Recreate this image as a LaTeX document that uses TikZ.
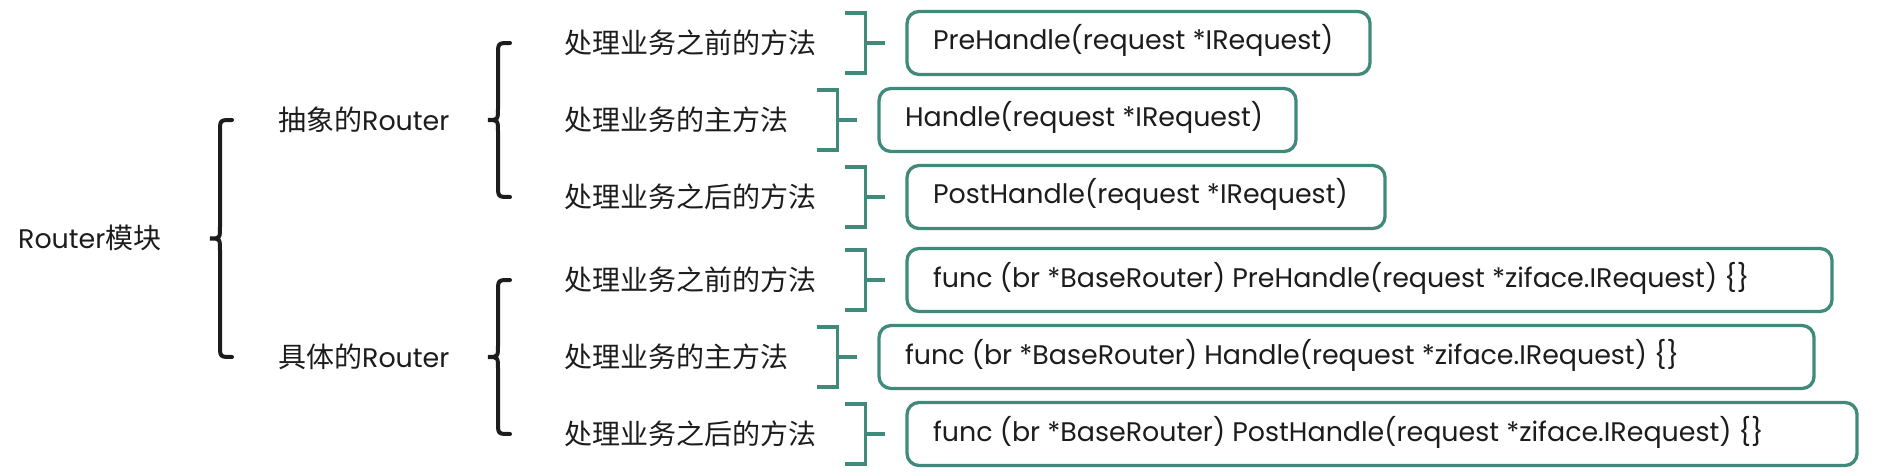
\documentclass[tikz,border=0pt]{standalone}
\usepackage{fontspec}
\usetikzlibrary{positioning,calc}
\setmainfont[Scale=0.96]{Poppins}
\newfontfamily\cjk{Noto Sans CJK SC}
\definecolor{mapgreen}{RGB}{64,138,124}
\definecolor{ink}{RGB}{28,28,28}

\begin{document}
\begin{tikzpicture}[x=1pt, y=-1pt,
    topic/.style={anchor=west, inner sep=0pt, text=ink, font=\fontsize{28}{34}\selectfont},
    method/.style={topic, font=\cjk\fontsize{28}{34}\selectfont},
    code/.style={draw=mapgreen, line width=3.3pt, rounded corners=12pt, text=ink,
        font=\fontsize{28}{34}\selectfont, inner xsep=26pt, minimum height=63pt,
        text height=20pt, text depth=6pt},
    bracket/.style={mapgreen, line width=3.5pt},
    brace/.style={ink, line width=4pt, line cap=round}]
\useasboundingbox (0,0) rectangle (1904,476);
% Topics
\node[topic] (root) at (18,238) {Router{\cjk 模块}};
\node[topic] (abs) at (278,120) {{\cjk 抽象的}Router};
\node[topic] (con) at (278,357) {{\cjk 具体的}Router};
% Methods, with their code boxes
\foreach \i/\r/\w/\lab/\code in {
    1/43/411/{处理业务之前的方法}/{PreHandle(request *IRequest)},
    2/120/365/{处理业务的主方法}/{Handle(request *IRequest)},
    3/197/426/{处理业务之后的方法}/{PostHandle(request *IRequest)},
    4/280/873/{处理业务之前的方法}/{func (br *BaseRouter) PreHandle(request *ziface.IRequest) \{\}},
    5/357/883/{处理业务的主方法}/{func (br *BaseRouter) Handle(request *ziface.IRequest) \{\}},
    6/434/898/{处理业务之后的方法}/{func (br *BaseRouter) PostHandle(request *ziface.IRequest) \{\}}} {
    \node[method] (m\i) at (564,\r) {\lab};
    \node[code, right=89pt of m\i] (b\i) {\makebox[\w pt][l]{\code}};
    \draw[bracket] ($(b\i.west)+(-60,-30)$) -| ($(b\i.west)+(-40,30)$) -- ++(-20,0);
    \draw[bracket] ($(b\i.west)+(-40,0)$) -- ($(b\i.west)+(-20,0)$);
}
% Braces
\foreach \a/\b/\gap in {abs/con/46, m1/m3/54, m4/m6/54} {
    \coordinate (t) at ($(\a.west)+(-\gap,0)$);
    \coordinate (u) at ($(\b.west)+(-\gap,0)$);
    \coordinate (tip) at ($(t)!0.5!(u)+(-22,0)$);
    \draw[brace] (t) .. controls +(-12,0) .. ($(t)+(-12,12)$)
        -- ($(tip)+(10,-12)$) .. controls +(0,12) .. (tip)
        .. controls +(10,0) .. ($(tip)+(10,12)$)
        -- ($(u)+(-12,-12)$) .. controls +(0,12) .. (u);
}
\end{tikzpicture}
\end{document}
